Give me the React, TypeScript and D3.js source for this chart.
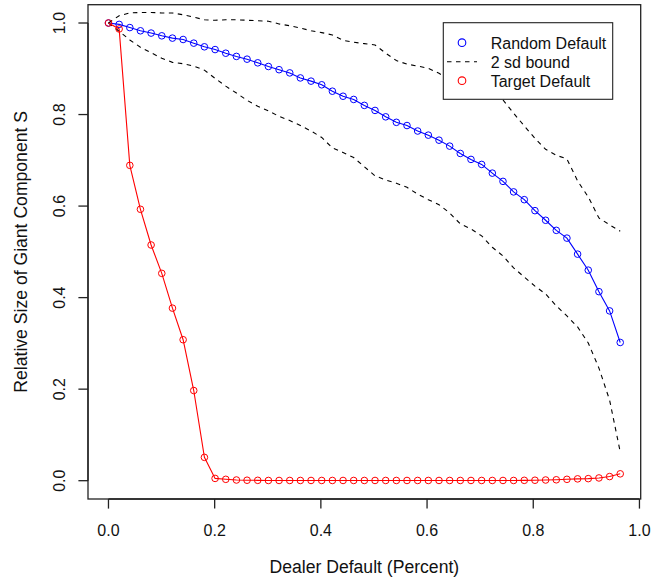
import { useRef, useEffect } from 'react';
import * as d3 from 'd3';

// fraction of dealers removed (49 steps)
const DEALER_X = [
  0, 0.0201, 0.0402, 0.0602, 0.0803, 0.1004, 0.1205, 0.1406, 0.1606, 0.1807,
  0.2008, 0.2209, 0.241, 0.261, 0.2811, 0.3012, 0.3213, 0.3414, 0.3614, 0.3815,
  0.4016, 0.4217, 0.4418, 0.4618, 0.4819, 0.502, 0.5221, 0.5422, 0.5622, 0.5823,
  0.6024, 0.6225, 0.6426, 0.6626, 0.6827, 0.7028, 0.7229, 0.743, 0.763, 0.7831,
  0.8032, 0.8233, 0.8434, 0.8634, 0.8835, 0.9036, 0.9237, 0.9438, 0.9638
];

const RANDOM_DEFAULT = [
  1.000, 0.997, 0.990, 0.983, 0.978, 0.972, 0.967, 0.964, 0.956, 0.948,
  0.942, 0.934, 0.927, 0.921, 0.913, 0.905, 0.898, 0.891, 0.880, 0.873,
  0.865, 0.851, 0.840, 0.833, 0.820, 0.809, 0.795, 0.783, 0.776, 0.764,
  0.755, 0.744, 0.731, 0.715, 0.702, 0.691, 0.672, 0.654, 0.631, 0.614,
  0.590, 0.569, 0.547, 0.530, 0.495, 0.460, 0.413, 0.371, 0.302
];

const UPPER_BOUND = [
  1.000, 1.016, 1.022, 1.023, 1.023, 1.022, 1.022, 1.018, 1.013, 1.007,
  1.006, 1.007, 1.007, 1.006, 1.005, 1.004, 0.998, 0.994, 0.989, 0.983,
  0.979, 0.974, 0.962, 0.958, 0.955, 0.952, 0.934, 0.918, 0.910, 0.906,
  0.901, 0.890, 0.877, 0.862, 0.853, 0.845, 0.840, 0.832, 0.803, 0.775,
  0.748, 0.724, 0.711, 0.703, 0.655, 0.620, 0.574, 0.559, 0.545
];

const LOWER_BOUND = [
  1.000, 0.982, 0.963, 0.947, 0.935, 0.923, 0.914, 0.911, 0.906, 0.897,
  0.879, 0.862, 0.847, 0.831, 0.818, 0.808, 0.796, 0.787, 0.776, 0.764,
  0.750, 0.727, 0.717, 0.706, 0.686, 0.666, 0.657, 0.650, 0.641, 0.626,
  0.614, 0.603, 0.585, 0.561, 0.550, 0.535, 0.510, 0.491, 0.465, 0.445,
  0.425, 0.408, 0.382, 0.360, 0.336, 0.301, 0.246, 0.176, 0.063
];

const TARGET_DEFAULT = [
  1.000, 0.987, 0.689, 0.593, 0.515, 0.453, 0.377, 0.308, 0.197, 0.051,
  0.005, 0.003, 0.0015, 0.001, 0.0008, 0.0005, 0.0005, 0.0005, 0.0005, 0.0005,
  0.0005, 0.0005, 0.0005, 0.0005, 0.0005, 0.0005, 0.0005, 0.0005, 0.0005, 0.0005,
  0.0005, 0.0005, 0.0005, 0.0005, 0.0005, 0.0005, 0.0005, 0.0005, 0.0005, 0.0008,
  0.001, 0.0015, 0.002, 0.003, 0.004, 0.0045, 0.006, 0.009, 0.015
];

const X_TICKS = [0, 0.2, 0.4, 0.6, 0.8, 1.0];
const Y_TICKS = [0, 0.2, 0.4, 0.6, 0.8, 1.0];

const LEGEND_ITEMS = [
  { label: "Random Default", kind: "point", color: "#0000FF" },
  { label: "2 sd bound", kind: "dash", color: "#000000" },
  { label: "Target Default", kind: "point", color: "#FF0000" }
];

const FONT = "'Liberation Sans', Arial, Helvetica, sans-serif";

function App() {
  const svgRef = useRef<SVGSVGElement>(null);

  useEffect(() => {
    const svg = d3.select(svgRef.current);
    svg.selectAll("*").remove();

    const W = 652, H = 582;
    const plot = { left: 88, right: 640.7, top: 4.7, bottom: 499 };

    // R style 4% padding
    const xr = d3.max(DEALER_X)! - d3.min(DEALER_X)!;
    const x = d3.scaleLinear()
      .domain([d3.min(DEALER_X)! - 0.04 * xr, d3.max(DEALER_X)! + 0.04 * xr])
      .range([plot.left, plot.right]);
    const y = d3.scaleLinear()
      .domain([-0.04, 1.04])
      .range([plot.bottom, plot.top]);

    svg.attr("width", W).attr("height", H)
      .style("font-family", FONT);

    svg.append("rect").attr("width", W).attr("height", H).attr("fill", "#fff");

    const line = (vals: number[]) => d3.line<number>()
      .x((_, i) => x(DEALER_X[i]))
      .y(d => y(d))(vals);

    // random default
    svg.append("path").attr("d", line(RANDOM_DEFAULT))
      .attr("fill", "none").attr("stroke", "#0000FF").attr("stroke-width", 1.1);
    svg.append("g").selectAll("circle")
      .data(RANDOM_DEFAULT).enter().append("circle")
      .attr("cx", (_, i) => x(DEALER_X[i])).attr("cy", d => y(d))
      .attr("r", 3.3).attr("fill", "none").attr("stroke", "#0000FF").attr("stroke-width", 1);

    // 2 sd bounds
    [UPPER_BOUND, LOWER_BOUND].forEach(b => {
      svg.append("path").attr("d", line(b))
        .attr("fill", "none").attr("stroke", "#000").attr("stroke-width", 1.1)
        .attr("stroke-dasharray", "4.5,4.5");
    });

    // target default
    svg.append("path").attr("d", line(TARGET_DEFAULT))
      .attr("fill", "none").attr("stroke", "#FF0000").attr("stroke-width", 1.1);
    svg.append("g").selectAll("circle")
      .data(TARGET_DEFAULT).enter().append("circle")
      .attr("cx", (_, i) => x(DEALER_X[i])).attr("cy", d => y(d))
      .attr("r", 3.3).attr("fill", "none").attr("stroke", "#FF0000").attr("stroke-width", 1);

    // box
    svg.append("rect")
      .attr("x", plot.left).attr("y", plot.top)
      .attr("width", plot.right - plot.left).attr("height", plot.bottom - plot.top)
      .attr("fill", "none").attr("stroke", "#222").attr("stroke-width", 1.3);

    // axes
    const tick = 9.6;
    const xAxis = svg.append("g");
    xAxis.append("line")
      .attr("x1", x(X_TICKS[0])).attr("x2", x(X_TICKS[X_TICKS.length - 1]))
      .attr("y1", plot.bottom).attr("y2", plot.bottom)
      .attr("stroke", "#222").attr("stroke-width", 1.3);
    X_TICKS.forEach(t => {
      xAxis.append("line")
        .attr("x1", x(t)).attr("x2", x(t))
        .attr("y1", plot.bottom).attr("y2", plot.bottom + tick)
        .attr("stroke", "#222").attr("stroke-width", 1.3);
      xAxis.append("text")
        .attr("x", x(t)).attr("y", 535.7)
        .attr("text-anchor", "middle").style("font-size", "16px").attr("fill", "#111")
        .text(d3.format(".1f")(t));
    });

    const yAxis = svg.append("g");
    yAxis.append("line")
      .attr("x1", plot.left).attr("x2", plot.left)
      .attr("y1", y(Y_TICKS[0])).attr("y2", y(Y_TICKS[Y_TICKS.length - 1]))
      .attr("stroke", "#222").attr("stroke-width", 1.3);
    Y_TICKS.forEach(t => {
      yAxis.append("line")
        .attr("x1", plot.left - tick).attr("x2", plot.left)
        .attr("y1", y(t)).attr("y2", y(t))
        .attr("stroke", "#222").attr("stroke-width", 1.3);
      yAxis.append("text")
        .attr("transform", `translate(65,${y(t)}) rotate(-90)`)
        .attr("text-anchor", "middle").style("font-size", "16px").attr("fill", "#111")
        .text(d3.format(".1f")(t));
    });

    // axis titles (slightly larger, like cex.lab 1.1)
    svg.append("text")
      .attr("x", (plot.left + plot.right) / 2).attr("y", 572.7)
      .attr("text-anchor", "middle").style("font-size", "17.6px").attr("fill", "#111")
      .text("Dealer Default (Percent)");
    svg.append("text")
      .attr("transform", `translate(26.7,${(plot.top + plot.bottom) / 2}) rotate(-90)`)
      .attr("text-anchor", "middle").style("font-size", "17.6px").attr("fill", "#111")
      .text("Relative Size of Giant Component S");

    // legend
    const lg = svg.append("g");
    lg.append("rect")
      .attr("x", 443.3).attr("y", 22.7).attr("width", 169.4).attr("height", 76.6)
      .attr("fill", "#fff").attr("stroke", "#222").attr("stroke-width", 1.1);
    LEGEND_ITEMS.forEach((it, i) => {
      const cy = 42.7 + i * 19;
      if (it.kind === "point") {
        lg.append("circle").attr("cx", 462).attr("cy", cy).attr("r", 3.8)
          .attr("fill", "none").attr("stroke", it.color).attr("stroke-width", 1.1);
      } else {
        lg.append("line").attr("x1", 447).attr("x2", 477).attr("y1", cy).attr("y2", cy)
          .attr("stroke", it.color).attr("stroke-width", 1.1).attr("stroke-dasharray", "4.5,4.5");
      }
      lg.append("text").attr("x", 490.7).attr("y", cy + 6)
        .style("font-size", "16px").attr("fill", "#111").text(it.label);
    });
  }, []);

  return (
    <svg ref={svgRef} style={{ position: "absolute", left: 0, top: 0, display: "block" }}></svg>
  );
}

export default App;
